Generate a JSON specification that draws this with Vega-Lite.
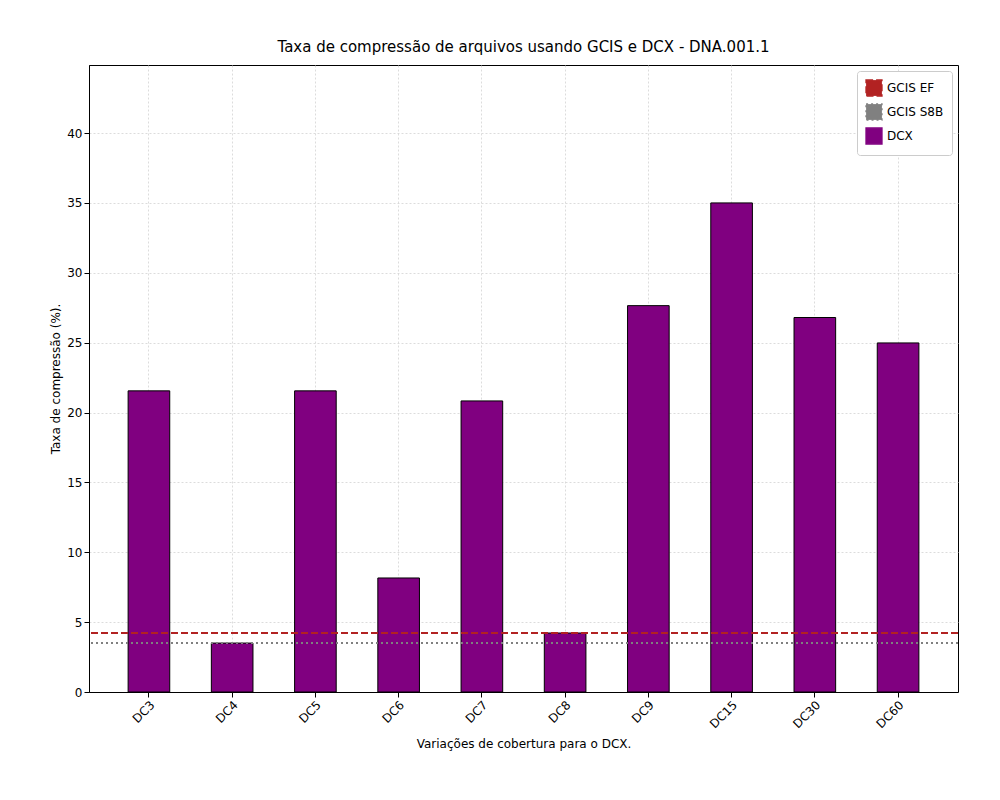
{
  "$schema": "https://vega.github.io/schema/vega-lite/v6.json",
  "width": 869,
  "height": 627,
  "autosize": "none",
  "padding": {"left": 89, "top": 65, "right": 42, "bottom": 108},
  "background": "white",
  "title": {"text": "Taxa de compressão de arquivos usando GCIS e DCX -  DNA.001.1", "font": "DejaVu Sans", "fontSize": 15, "fontWeight": "normal", "color": "black", "offset": 10},
  "config": {
    "font": "DejaVu Sans",
    "view": {"stroke": "black", "strokeWidth": 1},
    "axis": {"labelFont": "DejaVu Sans", "titleFont": "DejaVu Sans", "labelFontSize": 12, "titleFontSize": 12, "titleFontWeight": "normal", "labelColor": "black", "titleColor": "black", "domainColor": "black", "tickColor": "black", "gridColor": "#d3d3d3", "gridDash": [2, 2], "gridWidth": 0.8}
  },
  "datasets": {
    "bars": [
      {"cobertura": "DC3", "taxa": 21.55, "serie": "DCX"},
      {"cobertura": "DC4", "taxa": 3.5, "serie": "DCX"},
      {"cobertura": "DC5", "taxa": 21.55, "serie": "DCX"},
      {"cobertura": "DC6", "taxa": 8.16, "serie": "DCX"},
      {"cobertura": "DC7", "taxa": 20.83, "serie": "DCX"},
      {"cobertura": "DC8", "taxa": 4.22, "serie": "DCX"},
      {"cobertura": "DC9", "taxa": 27.65, "serie": "DCX"},
      {"cobertura": "DC15", "taxa": 35.0, "serie": "DCX"},
      {"cobertura": "DC30", "taxa": 26.8, "serie": "DCX"},
      {"cobertura": "DC60", "taxa": 24.98, "serie": "DCX"}
    ],
    "lines": [
      {"serie": "GCIS EF", "taxa": 4.22},
      {"serie": "GCIS S8B", "taxa": 3.5}
    ]
  },
  "layer": [
    {
      "data": {"name": "bars"},
      "mark": {"type": "bar", "stroke": "black", "strokeWidth": 1},
      "encoding": {
        "x": {"field": "cobertura", "type": "nominal", "sort": null,
          "scale": {"paddingInner": 0.5, "paddingOuter": 0.47},
          "title": "Variações de cobertura para o DCX.",
          "axis": {"labelAngle": -45, "grid": true, "bandPosition": 0.5, "titlePadding": 8}},
        "y": {"field": "taxa", "type": "quantitative",
          "scale": {"domain": [0, 44.87], "nice": false},
          "title": "Taxa de compressão (%).",
          "axis": {"values": [0, 5, 10, 15, 20, 25, 30, 35, 40], "grid": true}},
        "color": {"field": "serie", "type": "nominal",
          "scale": {"domain": ["GCIS EF", "GCIS S8B", "DCX"], "range": ["#b22222", "#808080", "#800080"]},
          "legend": {"title": null, "orient": "top-right", "labelFontSize": 12, "strokeColor": "#cccccc", "fillColor": "white", "padding": 8, "cornerRadius": 3, "offset": 6, "symbolSize": 250}}
      }
    },
    {
      "data": {"name": "lines"},
      "mark": {"type": "rule", "strokeWidth": 2},
      "encoding": {
        "y": {"field": "taxa", "type": "quantitative"},
        "color": {"field": "serie", "type": "nominal"},
        "strokeDash": {"field": "serie", "type": "nominal",
          "scale": {"domain": ["GCIS EF", "GCIS S8B", "DCX"], "range": [[7, 3], [2, 3], [1, 0]]},
          "legend": null}
      }
    }
  ]
}
